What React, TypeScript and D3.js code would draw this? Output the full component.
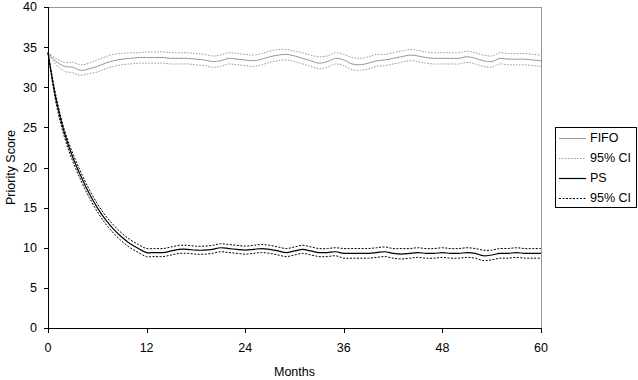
import React from "react";
import * as d3 from "d3";

const months = d3.range(0, 61);
const xTicks = [0, 12, 24, 36, 48, 60];
const yTicks = [0, 5, 10, 15, 20, 25, 30, 35, 40];

const fifoMean = [34.3, 33.2, 32.6, 32.5, 32.1, 32.3, 32.6, 33.0, 33.3, 33.5, 33.6, 33.7, 33.7, 33.7, 33.7, 33.6, 33.6, 33.6, 33.5, 33.4, 33.2, 33.3, 33.6, 33.5, 33.4, 33.3, 33.5, 33.8, 34.0, 34.1, 33.9, 33.6, 33.3, 33.0, 33.2, 33.6, 33.4, 32.9, 32.8, 33.0, 33.3, 33.4, 33.6, 33.8, 34.0, 33.9, 33.7, 33.6, 33.6, 33.6, 33.6, 33.8, 33.6, 33.3, 33.2, 33.6, 33.5, 33.5, 33.5, 33.4, 33.3];
const fifoUpper = [34.3, 33.6, 33.1, 33.1, 32.8, 33.0, 33.4, 33.8, 34.1, 34.2, 34.3, 34.3, 34.4, 34.4, 34.4, 34.3, 34.3, 34.3, 34.2, 34.1, 33.9, 34.0, 34.3, 34.2, 34.1, 34.0, 34.2, 34.5, 34.7, 34.7, 34.5, 34.3, 34.0, 33.8, 33.9, 34.3, 34.1, 33.7, 33.6, 33.8, 34.1, 34.1, 34.3, 34.5, 34.7, 34.6, 34.4, 34.3, 34.3, 34.3, 34.3, 34.5, 34.3, 34.0, 33.9, 34.3, 34.2, 34.2, 34.2, 34.1, 34.0];
const fifoLower = [34.3, 32.8, 32.0, 31.8, 31.5, 31.7, 31.9, 32.3, 32.6, 32.8, 32.9, 33.0, 33.0, 33.0, 33.0, 32.9, 32.9, 32.9, 32.8, 32.7, 32.5, 32.6, 32.9, 32.8, 32.7, 32.6, 32.8, 33.1, 33.3, 33.4, 33.2, 32.9, 32.6, 32.3, 32.5, 32.9, 32.7, 32.2, 32.1, 32.3, 32.6, 32.7, 32.9, 33.1, 33.3, 33.2, 33.0, 32.9, 32.9, 32.9, 32.9, 33.1, 32.9, 32.6, 32.5, 32.9, 32.8, 32.8, 32.8, 32.7, 32.6];
const psMean = [34.3, 28.4, 24.3, 21.3, 18.9, 16.8, 15.0, 13.5, 12.3, 11.3, 10.5, 9.9, 9.4, 9.4, 9.4, 9.6, 9.8, 9.8, 9.7, 9.7, 9.8, 10.0, 9.9, 9.8, 9.7, 9.8, 9.9, 9.8, 9.6, 9.4, 9.6, 9.8, 9.6, 9.4, 9.4, 9.5, 9.3, 9.3, 9.3, 9.3, 9.4, 9.5, 9.3, 9.2, 9.3, 9.4, 9.3, 9.3, 9.4, 9.3, 9.3, 9.4, 9.3, 9.0, 9.1, 9.3, 9.3, 9.4, 9.3, 9.3, 9.3];
const psUpper = [34.3, 28.8, 24.7, 21.8, 19.4, 17.3, 15.5, 14.0, 12.8, 11.8, 11.0, 10.4, 9.9, 9.9, 9.9, 10.1, 10.3, 10.3, 10.2, 10.2, 10.3, 10.5, 10.4, 10.3, 10.2, 10.3, 10.4, 10.3, 10.1, 9.9, 10.1, 10.3, 10.1, 9.9, 9.9, 10.0, 9.9, 9.9, 9.9, 9.9, 10.0, 10.1, 9.9, 9.9, 9.9, 10.0, 9.9, 9.9, 10.0, 9.9, 9.9, 10.0, 9.9, 9.7, 9.7, 9.9, 9.9, 10.0, 9.9, 9.9, 9.9];
const psLower = [34.3, 27.9, 23.8, 20.8, 18.4, 16.3, 14.5, 13.0, 11.8, 10.8, 10.0, 9.4, 8.9, 8.9, 8.9, 9.1, 9.3, 9.3, 9.2, 9.2, 9.3, 9.5, 9.4, 9.3, 9.2, 9.3, 9.4, 9.3, 9.1, 8.9, 9.1, 9.3, 9.1, 8.9, 8.9, 9.0, 8.7, 8.7, 8.7, 8.7, 8.8, 8.9, 8.7, 8.6, 8.7, 8.8, 8.7, 8.7, 8.8, 8.7, 8.7, 8.8, 8.7, 8.4, 8.5, 8.7, 8.7, 8.8, 8.7, 8.7, 8.7];

const legendLabels = ["FIFO", "95% CI", "PS", "95% CI"];

const GRAY = "#969696";
const FONT = "Liberation Sans, Arial, sans-serif";

type S = { values: number[]; stroke: string; dash?: string; width: number };

const seriesList: S[] = [
  { values: fifoUpper, stroke: GRAY, dash: "1.5,1.5", width: 1 },
  { values: fifoLower, stroke: GRAY, dash: "1.5,1.5", width: 1 },
  { values: fifoMean, stroke: GRAY, width: 1 },
  { values: psUpper, stroke: "#000", dash: "2,1.5", width: 1 },
  { values: psLower, stroke: "#000", dash: "2,1.5", width: 1 },
  { values: psMean, stroke: "#000", width: 1.2 },
];

const legendStyles = [
  { stroke: GRAY, dash: undefined as string | undefined, width: 1 },
  { stroke: GRAY, dash: "1.5,1.5", width: 1 },
  { stroke: "#000", dash: undefined as string | undefined, width: 1.2 },
  { stroke: "#000", dash: "2,1.5", width: 1 },
];

export default function App() {
  const W = 638, H = 380;
  const L = 48, R = 541, T = 7, B = 328;
  const x = d3.scaleLinear().domain([0, 60]).range([L, R]);
  const y = d3.scaleLinear().domain([0, 40]).range([B, T]);
  const line = d3
    .line<number>()
    .x((_, i) => x(months[i]))
    .y((d) => y(d))
    .curve(d3.curveCatmullRom.alpha(0.5));

  return (
    <svg width={W} height={H} style={{ position: "absolute", left: 0, top: 0 }} fontFamily={FONT}>
      <rect x={0} y={0} width={W} height={H} fill="#fff" />
      {/* plot frame top/right */}
      <line x1={L} x2={R} y1={T + 0.5} y2={T + 0.5} stroke={GRAY} strokeWidth={1} />
      <line x1={R + 0.5} x2={R + 0.5} y1={T} y2={B} stroke={GRAY} strokeWidth={1} />
      {seriesList.map((s, i) => (
        <path
          key={i}
          d={line(s.values) || ""}
          fill="none"
          stroke={s.stroke}
          strokeWidth={s.width}
          strokeDasharray={s.dash}
        />
      ))}
      {/* axes */}
      <line x1={L + 0.5} x2={L + 0.5} y1={T} y2={B + 0.5} stroke="#000" />
      <line x1={L} x2={R + 1} y1={B + 0.5} y2={B + 0.5} stroke="#000" />
      {yTicks.map((t) => (
        <g key={"y" + t}>
          <line x1={L - 4} x2={L} y1={Math.round(y(t)) + 0.5} y2={Math.round(y(t)) + 0.5} stroke="#000" />
          <text x={L - 11} y={y(t)} dy="0.35em" textAnchor="end" fontSize={12.5}>
            {t}
          </text>
        </g>
      ))}
      {xTicks.map((t) => (
        <g key={"x" + t}>
          <line x1={Math.round(x(t)) + 0.5} x2={Math.round(x(t)) + 0.5} y1={B} y2={B + 5} stroke="#000" />
          <text x={x(t)} y={B + 20} dy="0.35em" textAnchor="middle" fontSize={12.5}>
            {t}
          </text>
        </g>
      ))}
      <text x={(L + R) / 2} y={372} textAnchor="middle" fontSize={12.5} dy="0.35em">
        Months
      </text>
      <text
        transform={`translate(11,${(T + B) / 2}) rotate(-90)`}
        textAnchor="middle"
        dy="0.35em"
        fontSize={12.5}
      >
        Priority Score
      </text>
      {/* legend */}
      <rect x={555.5} y={127.5} width={81} height={80} fill="#fff" stroke="#000" />
      {legendLabels.map((lab, i) => {
        const cy = 138 + i * 20;
        const st = legendStyles[i];
        return (
          <g key={"l" + i}>
            <line x1={559} x2={586} y1={cy + 0.5} y2={cy + 0.5} stroke={st.stroke} strokeWidth={st.width} strokeDasharray={st.dash} />
            <text x={590} y={cy} dy="0.35em" fontSize={12.5}>
              {lab}
            </text>
          </g>
        );
      })}
    </svg>
  );
}
